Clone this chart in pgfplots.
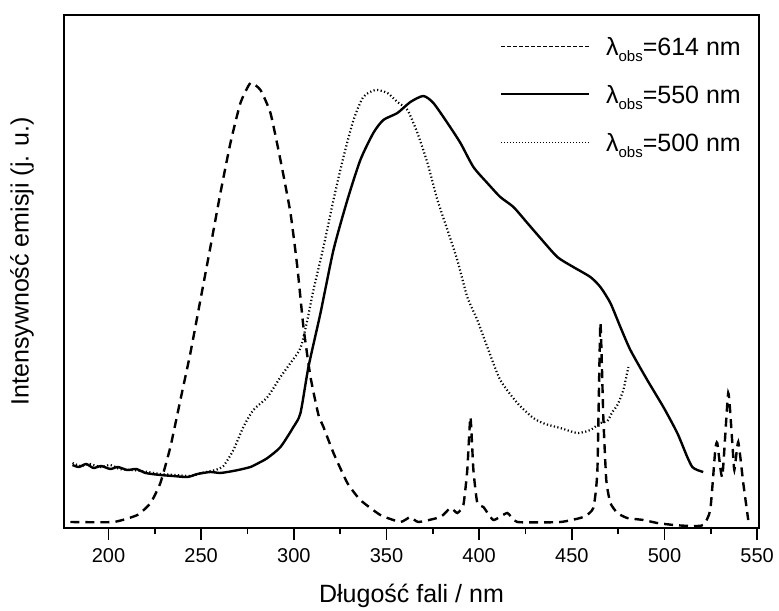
\documentclass[border=0pt]{standalone}
\usepackage{fontspec}
\setmainfont{Liberation Sans}
\usepackage{pgfplots}
\pgfplotsset{compat=1.18}

\newcommand{\obs}[1]{λ\raisebox{-0.45ex}{\fontsize{15bp}{15bp}\selectfont obs}=#1 nm}

\begin{document}
\begin{tikzpicture}
\begin{axis}[
  scale only axis, width=695bp, height=513bp,
  xmin=176, xmax=551, ymin=-1, ymax=512,
  xtick={200,250,...,550}, minor x tick num=1,
  ytick=\empty, xtick pos=bottom,
  tick align=outside, major tick length=12bp, minor tick length=6bp,
  axis line style={line width=1.6bp},
  every tick/.style={black, line width=1.6bp},
  every minor tick/.style={black, line width=1.4bp},
  xticklabel style={font=\fontsize{20bp}{24bp}\selectfont, yshift=-5bp},
  /pgf/number format/assume math mode=true,
  /pgf/number format/set thousands separator={},
  xlabel={Długość fali / nm},
  xlabel style={font=\fontsize{25bp}{30bp}\selectfont, at={(axis description cs:0.5,0)}, anchor=base, yshift=-74bp},
  ylabel={Intensywność emisji (j. u.)},
  ylabel style={font=\fontsize{25bp}{30bp}\selectfont, at={(axis description cs:-0.0604,0.52)}, anchor=center, rotate=0},
  legend style={at={(rel axis cs:1,1)}, anchor=north east, xshift=-18bp, yshift=-10bp,
    draw=none, fill=none, inner sep=0pt, row sep=0pt,
    font=\fontsize{25bp}{30bp}\selectfont,
    nodes={text height=30bp, text depth=18bp, inner sep=0pt, anchor=base west},
    /tikz/every odd column/.append style={column sep=16bp}},
  legend image code/.code={\draw[#1] (0bp,9bp) -- (88bp,9bp);},
]
% legend samples: the three observation wavelengths
\addlegendimage{black, line width=1.3bp, dash pattern=on 4bp off 2bp}
\addlegendentry{\obs{614}}
\addlegendimage{black, line width=1.5bp}
\addlegendentry{\obs{550}}
\addlegendimage{black, line width=1.3bp, dash pattern=on 1bp off 2bp}
\addlegendentry{\obs{500}}

% excitation spectrum, observed at 614 nm
\addplot[black, line width=2.4bp, dash pattern=on 9bp off 6bp, smooth, tension=0.3, forget plot] coordinates {
(179.5,5) (202.7,5) (215.6,12) (222.7,24) (228.0,44) (233.4,80) (238.8,127)
(244.2,174) (249.6,227) (255.0,280) (260.4,334) (265.8,384) (271.2,424)
(276.6,444) (282.0,437) (287.4,414) (292.8,367) (298.2,314) (301.9,260)
(305.2,200) (309.0,150) (313.3,112) (316.0,100) (321.4,74) (328.9,44)
(335.9,27) (346.7,12) (357.5,5) (362.9,10) (367.2,5) (379.1,10) (384.5,19)
(388.2,14) (391.5,22) (393.6,57) (395.3,110) (396.9,57) (399.0,24)
(402.3,20) (407.7,7) (415.2,14) (420.6,5) (443.8,5) (456.2,10) (461.6,19)
(463.8,57) (465.4,204) (467.0,110) (468.6,47) (470.8,24) (474.6,14)
(479.9,9) (488.6,7) (496.1,4) (505,2) (514,1) (520.9,2) (524.7,17)
(527.4,77) (528.5,84) (531.2,50) (534.4,134) (536.6,84) (537.7,57)
(539.8,85) (542.5,44) (545.2,7)
};
% excitation spectrum, observed at 550 nm
\addplot[black, line width=2.4bp, smooth, tension=0.4, forget plot] coordinates {
(180.6,62) (184,60) (188,63) (191.9,59) (196,61) (201,58) (205,60) (210.2,57)
(215,58) (220,54) (228.0,52) (235,51) (242.6,50) (248,53) (255.0,55)
(260,54) (264.2,55) (270,57) (276.6,60) (281,64) (285.8,69) (292.8,80)
(299.8,100) (303.6,114) (307.9,160) (314.4,214) (321.4,277) (328.9,327)
(335.9,367) (342.9,394) (348.3,407) (355.9,414) (362.9,425) (369.9,431)
(375.3,424) (382.9,404) (389.9,384) (396.9,360) (404.4,344) (411.4,330)
(418.5,320) (426.0,304) (433.0,289) (442.2,270) (450.8,260) (460.0,250)
(465.4,240) (470.8,224) (476.2,200) (481.6,177) (490.7,147) (499.4,120)
(506.9,94) (512.3,70) (515,60) (517.7,57) (520.9,55)
};
% excitation spectrum, observed at 500 nm
\addplot[black, line width=2.2bp, dash pattern=on 1.2bp off 2.4bp, smooth, tension=0.4, forget plot] coordinates {
(180.6,64) (185,61) (190,63) (195.7,60) (201,62) (206,58) (211.9,57)
(218,56) (228.0,53) (236,52) (244.2,51) (250,54) (257.7,57) (262.0,61)
(267.4,77) (272.8,100) (278.2,117) (285.8,130) (292.8,150) (298.2,164)
(303.6,179) (307.3,207) (310.6,237) (316.0,280) (321.4,327) (326.8,370)
(332.2,407) (337.5,430) (344.0,437) (350.5,434) (355.9,425) (361.3,417)
(366.7,394) (372.1,364) (377.5,327) (382.9,297) (388.2,267) (393.6,230)
(399.0,207) (404.4,180) (411.4,147) (420.6,124) (429.2,109) (435.7,103)
(443.8,99) (453.0,94) (460.0,97) (465.4,104) (469.2,106) (471.9,115)
(474.6,122) (477.8,137) (480.5,160)
};
\end{axis}
\pgfresetboundingbox
\path (current axis.south west) ++(-64bp,-83bp) rectangle ++(779bp,611bp);
\end{tikzpicture}
\end{document}
